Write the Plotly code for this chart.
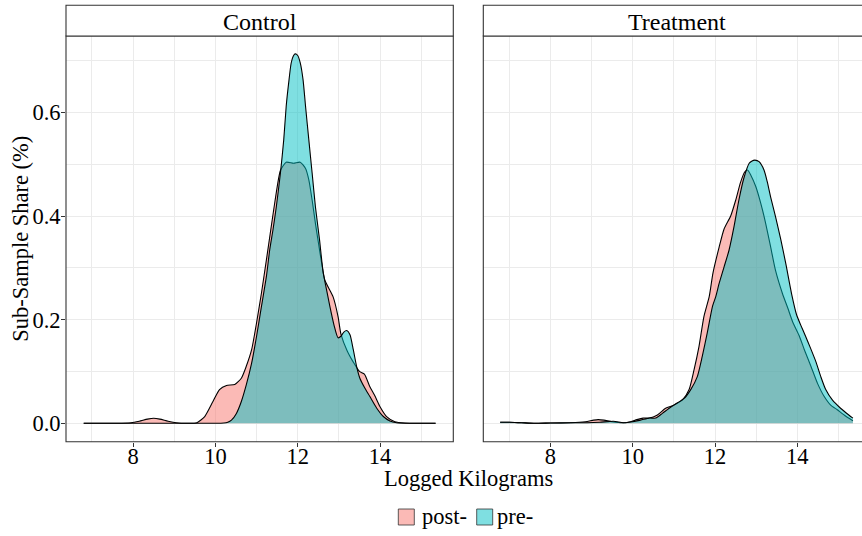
import plotly.graph_objects as go

# ---------------- data ----------------
panels = ["Control", "Treatment"]
groups = ["post-", "pre-"]

ctl_post_x = [6.80, 7.60, 7.95, 8.15, 8.35, 8.50, 8.65, 8.85, 9.05, 9.30,
              9.55, 9.74, 9.94, 10.10, 10.27, 10.47, 10.63, 10.75, 10.88, 11.00,
              11.12, 11.24, 11.33, 11.45, 11.58, 11.72, 11.90, 12.06, 12.19, 12.27,
              12.35, 12.43, 12.50, 12.58, 12.66, 12.86, 12.98, 13.05, 13.20, 13.35,
              13.50, 13.62, 13.75, 13.88, 14.00, 14.16, 14.36, 14.60, 15.00, 15.35]
ctl_post_y = [0.000, 0.000, 0.001, 0.004, 0.008, 0.0096, 0.008, 0.004, 0.001, 0.000,
              0.001, 0.013, 0.042, 0.065, 0.073, 0.075, 0.087, 0.110, 0.142, 0.194,
              0.252, 0.316, 0.365, 0.430, 0.488, 0.504, 0.502, 0.504, 0.492, 0.470,
              0.431, 0.386, 0.350, 0.310, 0.276, 0.244, 0.206, 0.172, 0.140, 0.118,
              0.100, 0.095, 0.071, 0.052, 0.032, 0.013, 0.003, 0.0005, 0.000, 0.000]

ctl_pre_x = [6.80, 9.50, 10.00, 10.20, 10.30, 10.39, 10.51, 10.63, 10.75, 10.88,
             11.00, 11.12, 11.24, 11.32, 11.40, 11.48, 11.58, 11.66, 11.72, 11.78,
             11.84, 11.90, 11.94, 12.00, 12.06, 12.13, 12.19, 12.27, 12.35, 12.43,
             12.53, 12.62, 12.70, 12.78, 12.88, 12.98, 13.05, 13.12, 13.19, 13.27,
             13.35, 13.43, 13.51, 13.63, 13.75, 13.92, 14.08, 14.24, 14.40, 14.80,
             15.35]
ctl_pre_y = [0.000, 0.000, 0.000, 0.0005, 0.002, 0.006, 0.019, 0.042, 0.074, 0.116,
             0.168, 0.226, 0.284, 0.335, 0.374, 0.418, 0.483, 0.547, 0.612, 0.657,
             0.695, 0.710, 0.713, 0.710, 0.696, 0.663, 0.612, 0.547, 0.483, 0.418,
             0.354, 0.290, 0.258, 0.226, 0.190, 0.165, 0.168, 0.176, 0.179, 0.171,
             0.142, 0.110, 0.087, 0.068, 0.052, 0.029, 0.013, 0.0045, 0.001, 0.000,
             0.000]

trt_post_x = [6.78, 7.00, 7.30, 7.60, 8.00, 8.50, 8.85, 9.05, 9.16, 9.30,
              9.50, 9.77, 9.95, 10.10, 10.25, 10.40, 10.60, 10.80, 11.00, 11.21,
              11.37, 11.49, 11.61, 11.73, 11.86, 11.95, 12.10, 12.22, 12.38, 12.50,
              12.62, 12.72, 12.79, 12.87, 12.99, 13.11, 13.23, 13.35, 13.47, 13.64,
              13.77, 13.89, 14.05, 14.17, 14.33, 14.49, 14.65, 14.81, 14.97, 15.17,
              15.35]
trt_post_y = [0.002, 0.002, 0.001, 0.000, 0.0005, 0.001, 0.003, 0.006, 0.007, 0.006,
              0.003, 0.001, 0.003, 0.007, 0.010, 0.010, 0.016, 0.029, 0.035, 0.045,
              0.065, 0.103, 0.148, 0.206, 0.245, 0.290, 0.340, 0.375, 0.400, 0.430,
              0.465, 0.485, 0.489, 0.479, 0.457, 0.425, 0.386, 0.341, 0.295, 0.250,
              0.222, 0.195, 0.168, 0.142, 0.110, 0.077, 0.052, 0.035, 0.026, 0.014,
              0.005]

trt_pre_x = [6.78, 7.00, 7.30, 7.60, 8.00, 8.50, 8.90, 9.20, 9.53, 9.77,
             9.91, 10.19, 10.40, 10.56, 10.72, 10.92, 11.08, 11.25, 11.41, 11.57,
             11.69, 11.81, 11.94, 12.02, 12.10, 12.22, 12.34, 12.46, 12.58, 12.70,
             12.83, 12.89, 12.97, 13.07, 13.19, 13.27, 13.35, 13.47, 13.60, 13.72,
             13.86, 13.98, 14.08, 14.20, 14.32, 14.45, 14.57, 14.69, 14.85, 15.05,
             15.25, 15.35]
trt_pre_y = [0.002, 0.002, 0.001, 0.000, 0.0005, 0.001, 0.001, 0.002, 0.004, 0.001,
             0.002, 0.006, 0.010, 0.010, 0.019, 0.031, 0.039, 0.048, 0.065, 0.090,
             0.129, 0.174, 0.226, 0.245, 0.270, 0.302, 0.334, 0.379, 0.431, 0.473,
             0.502, 0.506, 0.508, 0.505, 0.489, 0.466, 0.437, 0.399, 0.354, 0.308,
             0.250, 0.210, 0.190, 0.168, 0.145, 0.119, 0.090, 0.065, 0.045, 0.029,
             0.016, 0.010]

x_major = [8, 10, 12, 14]
x_minor = [7, 9, 11, 13, 15]
y_major = [0.0, 0.2, 0.4, 0.6]
y_major_text = ["0.0", "0.2", "0.4", "0.6"]
y_minor = [0.1, 0.3, 0.5, 0.7]

x_title = "Logged Kilograms"
y_title = "Sub-Sample Share (%)"

# ---------------- styling ----------------
W, H = 862, 536
FONT = "Liberation Serif, Times New Roman, serif"
FILL = {"post-": "rgba(248,118,109,0.5)", "pre-": "rgba(0,191,196,0.5)"}
KEY = {"post-": "#FBBAB6", "pre-": "#7FDFE1"}
GRID = "#EBEBEB"
BORDER = "#333333"

def px_x(p):
    return p / W

def px_y(p):
    return 1 - p / H

# panel pixel geometry
L0, L1 = 66.0, 453.3
R0, R1 = 483.3, 871.0
TOP, BOT = 36.0, 441.7
STRIP_TOP = 5.3
xr_left = [6.37, 15.78]
scale = (L1 - L0) / (xr_left[1] - xr_left[0])
xr_right = [xr_left[0], xr_left[0] + (W - R0) / scale]
yr = [-0.0356, 0.7476]

fig = go.Figure()
series = [
    ("x", "y", "post-", ctl_post_x, ctl_post_y),
    ("x", "y", "pre-", ctl_pre_x, ctl_pre_y),
    ("x2", "y2", "post-", trt_post_x, trt_post_y),
    ("x2", "y2", "pre-", trt_pre_x, trt_pre_y),
]
for xa, ya, g, xs, ys in series:
    fig.add_trace(go.Scatter(
        x=xs, y=ys, xaxis=xa, yaxis=ya, mode="lines", name=g,
        line=dict(color="black", width=1.1, shape="spline", smoothing=0.6),
        fill="tozeroy", fillcolor=FILL[g], showlegend=False, hoverinfo="skip"))

common_x = dict(tickmode="array", tickvals=x_major, ticks="outside", ticklen=4,
                tickwidth=1, tickcolor=BORDER, showgrid=True, gridcolor=GRID,
                gridwidth=1.1, zeroline=False, showline=False,
                ticklabelstandoff=-10,
                tickfont=dict(family=FONT, size=22.5, color="black"),
                minor=dict(tickmode="array", tickvals=x_minor, showgrid=True,
                           gridcolor=GRID, gridwidth=1.0, ticks=""))
common_y = dict(tickmode="array", tickvals=y_major, ticktext=y_major_text,
                showgrid=True, gridcolor=GRID, gridwidth=1.1, zeroline=False,
                showline=False, range=yr,
                domain=[px_y(BOT), px_y(TOP)],
                minor=dict(tickmode="array", tickvals=y_minor, showgrid=True,
                           gridcolor=GRID, gridwidth=1.0, ticks=""))

fig.update_layout(
    width=W, height=H, margin=dict(l=0, r=0, t=0, b=0),
    paper_bgcolor="white", plot_bgcolor="white",
    font=dict(family=FONT, color="black"),
    xaxis=dict(domain=[px_x(L0), px_x(L1)], range=xr_left, anchor="y", **common_x),
    xaxis2=dict(domain=[px_x(R0), 1.0], range=xr_right, anchor="y2", **common_x),
    yaxis=dict(anchor="x", ticks="outside", ticklen=4, tickwidth=1, tickcolor=BORDER,
               ticklabelstandoff=-4,
               tickfont=dict(family=FONT, size=22.5, color="black"), **common_y),
    yaxis2=dict(anchor="x2", matches="y", showticklabels=False, ticks="", **common_y),
    showlegend=False,
)

shapes = []
# panel borders
shapes.append(dict(type="rect", xref="paper", yref="paper",
                   x0=px_x(L0), x1=px_x(L1), y0=px_y(BOT), y1=px_y(TOP),
                   line=dict(color=BORDER, width=1.1), fillcolor="rgba(0,0,0,0)", layer="above"))
shapes.append(dict(type="path", xref="paper", yref="paper",
                   path=f"M {px_x(W+5)},{px_y(BOT)} L {px_x(R0)},{px_y(BOT)} L {px_x(R0)},{px_y(TOP)} L {px_x(W+5)},{px_y(TOP)}",
                   line=dict(color=BORDER, width=1.1), layer="above"))
# strips
shapes.append(dict(type="rect", xref="paper", yref="paper",
                   x0=px_x(L0), x1=px_x(L1), y0=px_y(TOP), y1=px_y(STRIP_TOP),
                   line=dict(color=BORDER, width=1.1), fillcolor="white"))
shapes.append(dict(type="path", xref="paper", yref="paper",
                   path=f"M {px_x(W+5)},{px_y(STRIP_TOP)} L {px_x(R0)},{px_y(STRIP_TOP)} L {px_x(R0)},{px_y(TOP)} L {px_x(W+5)},{px_y(TOP)}",
                   line=dict(color=BORDER, width=1.1), fillcolor="white"))
# legend keys
key_pos = {"post-": 398.3, "pre-": 476.7}
for g in groups:
    shapes.append(dict(type="rect", xref="paper", yref="paper",
                       x0=px_x(key_pos[g]), x1=px_x(key_pos[g] + 16),
                       y0=px_y(525), y1=px_y(509),
                       line=dict(color="#333333", width=0.8), fillcolor=KEY[g]))
fig.update_layout(shapes=shapes)

ann = []
strip_centers = [(L0 + L1) / 2, (R0 + R1) / 2]
for name, cx in zip(panels, strip_centers):
    ann.append(dict(text=name, xref="paper", yref="paper", x=px_x(cx),
                    y=px_y((STRIP_TOP + TOP) / 2 + 1), xanchor="center", yanchor="middle",
                    showarrow=False, font=dict(family=FONT, size=24, color="black")))
ann.append(dict(text=x_title, xref="paper", yref="paper", x=px_x((L0 + R1) / 2),
                y=px_y(478), xanchor="center", yanchor="middle", showarrow=False,
                font=dict(family=FONT, size=22.5, color="black")))
ann.append(dict(text=y_title, xref="paper", yref="paper", x=px_x(21),
                y=px_y((TOP + BOT) / 2), xanchor="center", yanchor="middle",
                textangle=-90, showarrow=False,
                font=dict(family=FONT, size=22.5, color="black")))
text_pos = {"post-": 419.5, "pre-": 494.5}
for g in groups:
    ann.append(dict(text=g, xref="paper", yref="paper", x=px_x(text_pos[g]),
                    y=px_y(516), xanchor="left", yanchor="middle", showarrow=False,
                    font=dict(family=FONT, size=22.5, color="black")))
fig.update_layout(annotations=ann)

fig.write_html("out.html", config={"displayModeBar": False},
               post_script="document.body.style.margin='0';document.body.style.padding='0';")
